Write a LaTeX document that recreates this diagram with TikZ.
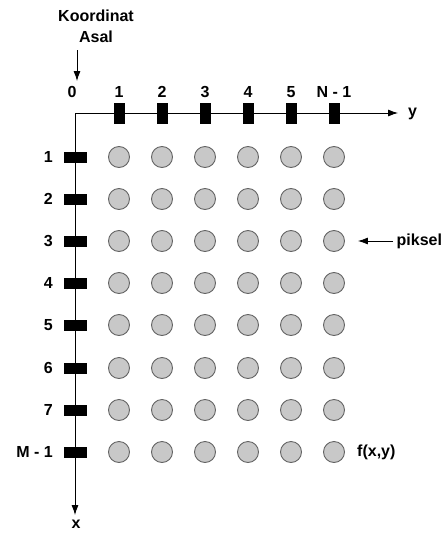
\documentclass[tikz,border=0pt]{standalone}
\usepackage{fontspec}
\setmainfont{Liberation Sans}
\usetikzlibrary{arrows.meta}
\begin{document}
\begin{tikzpicture}[x=1pt,y=-1pt,
  lbl/.style={font=\fontsize{16}{21}\selectfont\bfseries, inner sep=2pt},
  vtick/.style={draw=black, fill=black, minimum width=10pt, minimum height=20pt, inner sep=0pt},
  htick/.style={draw=black, fill=black, minimum width=22pt, minimum height=10pt, inner sep=0pt},
  pix/.style={circle, draw={rgb,255:red,100;green,100;blue,100}, line width=0.9pt, fill={rgb,255:red,200;green,200;blue,200}, minimum size=21pt, inner sep=0pt},
  axis/.style={line width=0.8pt, -{Latex[length=10pt,width=7pt]}}
]
\useasboundingbox (0,0) rectangle (445,533);

% axes
\coordinate (O) at (75,113);
\coordinate (yend) at (398,113);
\coordinate (xend) at (75,515);
\draw[axis] (O) -- (yend);
\draw[axis] (O) -- (xend);
\node[lbl, anchor=west] (ylab) at (406,114) {y};
\node[lbl] (xlab) at (76,524) {x};

% origin label
\node[lbl, align=center] (ka) at (96,26) {Koordinat\\Asal};
\coordinate (kaS) at (77,50);
\coordinate (kaE) at (77,81);
\draw[axis] (kaS) -- (kaE);
\node[lbl] (zero) at (72,92) {0};

% columns
\foreach \j/\x/\t in {1/119/1, 2/162/2, 3/205/3, 4/248/4, 5/291/5, 6/334/N - 1} {
  \node[vtick] (t-\j) at (\x,113) {};
  \node[lbl] (tl-\j) at (\x,92) {\t};
}

% rows
\foreach \i/\y/\t in {1/157/1, 2/199/2, 3/241/3, 4/283/4, 5/325/5, 6/368/6, 7/410/7, 8/452/M - 1} {
  \node[htick] (r-\i) at (75,\y) {};
  \node[lbl, anchor=east] (rl-\i) at (55,\y) {\t};
  \foreach \j/\x in {1/119, 2/162, 3/205, 4/248, 5/291, 6/334} {
    \node[pix] (c-\i-\j) at (\x,\y) {};
  }
}

% annotations
\node[lbl, anchor=west, inner sep=3.5pt] (piksel) at (393,241) {piksel};
\draw[line width=0.8pt, -{Latex[length=10pt,width=7pt]}, shorten >=13pt] (piksel.west) -- (c-3-6.east);
\node[lbl, anchor=west] (fxy) at (355,452) {f(x,y)};
\end{tikzpicture}
\end{document}
